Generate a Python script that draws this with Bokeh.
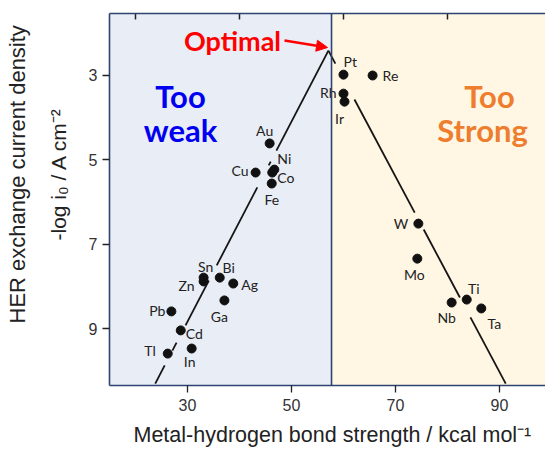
from bokeh.core.properties import value
from bokeh.embed import file_html
from bokeh.models import (Arrow, BoxAnnotation, ColumnDataSource, FixedTicker,
                          Label, LinearAxis, NormalHead, Range1d, Span, Title)
from bokeh.plotting import figure
from bokeh.resources import INLINE

# Metal-hydrogen bond strength (kcal/mol) and -log i0 (A/cm^2) per metal
metals = ["Pt", "Re", "Rh", "Ir", "Au", "Ni", "Co", "Cu", "Fe",
          "W", "Mo", "Ti", "Nb", "Ta",
          "Sn", "Zn", "Bi", "Ag", "Ga", "Pb", "Cd", "Tl", "In"]
bond_strength = [60.0, 65.6, 60.0, 60.2, 45.8, 46.7, 46.3, 43.1, 46.2,
                 74.4, 74.2, 83.7, 80.8, 86.5,
                 33.1, 33.1, 36.2, 38.8, 37.1, 26.9, 28.7, 26.2, 30.8]
neg_log_i0 = [2.98, 3.00, 3.43, 3.62, 4.61, 5.23, 5.30, 5.30, 5.56,
              6.51, 7.34, 8.31, 8.38, 8.52,
              7.79, 7.88, 7.79, 7.93, 8.33, 8.59, 9.04, 9.59, 9.47]

# Volcano trend lines: apex and the two feet
volcano_apex = (57.1, 2.41)
weak_foot = (23.8, 10.30)
strong_foot = (91.2, 10.30)
# y-intervals where each arm is drawn (broken around the labels)
weak_arm_spans = [(10.30, 9.87), (9.52, 9.33), (8.92, 7.86), (7.50, 5.65),
                  (5.13, 5.04), (4.78, 2.41)]
strong_arm_spans = [(2.41, 2.72), (3.57, 6.25), (6.65, 8.26), (8.73, 10.30)]

# Boundary between the "too weak" and "too strong" regions
region_boundary = 57.7

x_ticks = [30, 50, 70, 90]
x_top_ticks = [20, 40, 60, 80]
y_ticks = [3, 5, 7, 9]

x_title = "Metal-hydrogen bond strength / kcal mol\u207b\u00b9"
y_title_lines = ["HER exchange current density", "-log i\u2080 / A cm\u207b\u00b2"]

# Label placement: (dx px, dy px, align)
label_layout = {
    "Pt": (0, -13, "left"), "Re": (10, 0, "left"), "Rh": (-7, -1, "right"),
    "Ir": (-5, 17, "center"), "Au": (-5, -13, "center"), "Ni": (3, -11, "left"),
    "Co": (5, 5, "left"), "Cu": (-7, -2, "right"), "Fe": (0, 16, "center"),
    "W": (-10, 0, "right"), "Mo": (-3, 16, "center"), "Ti": (7, -11, "center"),
    "Nb": (-5, 15, "center"), "Ta": (13, 15, "center"), "Sn": (2, -11, "center"),
    "Zn": (-9, 4, "right"), "Bi": (9, -10, "center"), "Ag": (8, 1, "left"),
    "Ga": (-5, 16, "center"), "Pb": (-6, -1, "right"), "Cd": (5, 3, "left"),
    "Tl": (-12, -3, "right"), "In": (-2, 13, "center"),
}

X0, X1 = 15.0, 98.85
Y_TOP, Y_BOT = 1.531, 10.346
NAVY = "#2E4371"
LABEL_FONT = "Lato"
AXIS_FONT = "Liberation Sans"

p = figure(width=545, height=454, output_backend="svg", toolbar_location=None,
           x_range=Range1d(X0, X1), y_range=Range1d(Y_BOT, Y_TOP),
           min_border_left=109, min_border_right=0, min_border_top=13,
           min_border_bottom=69)
p.outline_line_color = None
p.xgrid.visible = False
p.ygrid.visible = False
p.background_fill_color = "white"
p.border_fill_color = "white"

# Frame-to-canvas helpers for annotation placement (frame 109..545 x 13..385 px)
def cx(px):
    return X0 + (px - 109) * (X1 - X0) / 436.0

def cy(py):
    return Y_TOP + (py - 13) * (Y_BOT - Y_TOP) / 372.0

# Shaded regions
p.add_layout(BoxAnnotation(right=region_boundary, fill_color="#E9EDF6",
                           fill_alpha=1.0, line_color=None, level="underlay"))
p.add_layout(BoxAnnotation(left=region_boundary, fill_color="#FFF7E4",
                           fill_alpha=1.0, line_color=None, level="underlay"))
p.add_layout(Span(location=region_boundary, dimension="height",
                  line_color=NAVY, line_width=1.6))

# Axes
for ax in (p.xaxis[0], p.yaxis[0]):
    ax.axis_line_color = NAVY
    ax.axis_line_width = 1.6
    ax.major_tick_line_color = "#222222"
    ax.major_tick_line_width = 1.3
    ax.major_tick_out = 7
    ax.major_tick_in = 0
    ax.minor_tick_line_color = None
    ax.major_label_text_font = AXIS_FONT
    ax.major_label_text_font_size = "16px"
    ax.major_label_text_color = "#333333"
p.xaxis[0].ticker = FixedTicker(ticks=x_ticks)
p.yaxis[0].ticker = FixedTicker(ticks=y_ticks)
p.xaxis[0].major_label_standoff = 6
p.yaxis[0].major_label_standoff = 5

# Top frame edge: a bare axis line, with short inward tick marks below it
top_axis = LinearAxis(ticker=FixedTicker(ticks=x_top_ticks), axis_line_color=NAVY,
                      axis_line_width=1.6, major_tick_in=0, major_tick_out=0,
                      minor_tick_line_color=None,
                      major_label_overrides={t: "" for t in x_top_ticks},
                      major_label_standoff=0)
p.add_layout(top_axis, "above")
tick_len = 6 * (Y_BOT - Y_TOP) / 372.0
p.segment(x0=x_top_ticks, y0=[Y_TOP] * len(x_top_ticks),
          x1=x_top_ticks, y1=[Y_TOP + tick_len] * len(x_top_ticks),
          line_color="#222222", line_width=1.5)

# Axis titles as side panels
title_style = dict(text_font=AXIS_FONT, text_font_style="normal",
                   text_color="#222222", align="left")
p.add_layout(Title(text=y_title_lines[1], standoff=31, offset=145,
                   text_font_size="21px", **title_style), "left")
p.add_layout(Title(text=y_title_lines[0], standoff=0, offset=62,
                   text_font_size="22px", **title_style), "left")
p.add_layout(Title(text=x_title, standoff=15, offset=24,
                   text_font_size="21.5px", **title_style), "below")

# Volcano arms
def arm_x(y, foot):
    t = (y - volcano_apex[1]) / (foot[1] - volcano_apex[1])
    return volcano_apex[0] + t * (foot[0] - volcano_apex[0])

xs, ys = [], []
for spans, foot in ((weak_arm_spans, weak_foot), (strong_arm_spans, strong_foot)):
    for a, b in spans:
        xs.append([arm_x(a, foot), arm_x(b, foot)])
        ys.append([a, b])
p.multi_line(xs=xs, ys=ys, line_color="#151515", line_width=1.8)

# Metal points and labels
src = ColumnDataSource(dict(
    x=bond_strength, y=neg_log_i0, name=metals,
    dx=[label_layout[m][0] for m in metals],
    dy=[label_layout[m][1] for m in metals],
    align=[label_layout[m][2] for m in metals],
))
p.scatter("x", "y", source=src, size=9, color="#111111")
p.text("x", "y", text="name", source=src, x_offset="dx", y_offset="dy",
       text_align="align", text_baseline="middle", text_color="#222222",
       text_font=value(LABEL_FONT), text_font_size="14px")

# Region captions
for txt, px, py, col in (("Too", 180, 95, "#0000F0"), ("weak", 180, 129, "#0000F0"),
                         ("Too", 489, 95, "#EE7D2E"), ("Strong", 482, 129, "#EE7D2E")):
    p.add_layout(Label(x=cx(px), y=cy(py), text=txt, text_color=col,
                       text_font=LABEL_FONT, text_font_style="bold",
                       text_font_size="31px", text_align="center",
                       text_baseline="middle"))

# "Optimal" callout
p.add_layout(Label(x=cx(232), y=cy(40), text="Optimal", text_color="#FF0000",
                   text_font=LABEL_FONT, text_font_style="bold",
                   text_font_size="27px", text_align="center",
                   text_baseline="middle"))
p.add_layout(Arrow(x_start=cx(284), y_start=cy(40), x_end=cx(327), y_end=cy(47),
                   line_color="#FF0000", line_width=2.5,
                   end=NormalHead(size=11, fill_color="#FF0000",
                                  line_color="#FF0000")))

open("out.html", "w").write(file_html(p, INLINE))
